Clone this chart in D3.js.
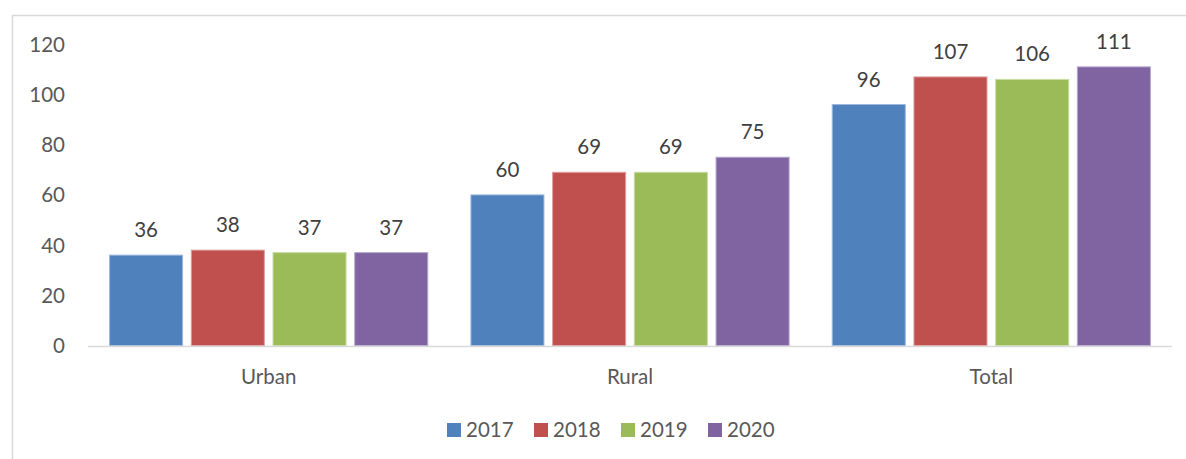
<!DOCTYPE html>
<html>
<head>
<meta charset="utf-8">
<script src="https://cdn.jsdelivr.net/npm/d3@7"></script>
<style>
  html, body { margin: 0; padding: 0; background: #fff; }
  svg { display: block; font-family: Lato, "Open Sans", sans-serif; }
</style>
</head>
<body>
<svg id="chart" width="1186" height="459"></svg>
<script>
// Chart data
const categories = ["Urban", "Rural", "Total"];
const years = ["2017", "2018", "2019", "2020"];
const values2017 = [36, 60, 96];
const values2018 = [38, 69, 107];
const values2019 = [37, 69, 106];
const values2020 = [37, 75, 111];
const yTicks = [0, 20, 40, 60, 80, 100, 120];

const seriesValues = [values2017, values2018, values2019, values2020];
const colors = ["#4F81BD", "#C0504D", "#9BBB59", "#8064A2"];
const strokes = ["#9db8dc", "#dc9e9c", "#c6dba0", "#b5a5cc"];

const svg = d3.select("#chart");
const W = 1186, H = 459;

// Outer chart frame (left and top edges visible)
svg.append("line").attr("x1", 12.5).attr("x2", 12.5).attr("y1", 15).attr("y2", H)
  .attr("stroke", "#d9d9d9").attr("stroke-width", 1.5);
svg.append("line").attr("x1", 12).attr("x2", W).attr("y1", 15.5).attr("y2", 15.5)
  .attr("stroke", "#d9d9d9").attr("stroke-width", 1.5);

const plotLeft = 88, plotRight = 1172;
const y = d3.scaleLinear().domain([0, 120]).range([345.5, 44.3]);

const x0 = d3.scaleBand().domain(categories).range([plotLeft, plotRight])
  .paddingInner(0).paddingOuter(0);
const x1 = d3.scaleBand().domain(years).range([0, x0.bandwidth()])
  .paddingInner(0.094).paddingOuter(0.258);

// Y axis tick labels
svg.append("g").selectAll("text").data(yTicks).join("text")
  .attr("x", 65).attr("y", d => y(d) + 7.5)
  .attr("text-anchor", "end")
  .attr("font-size", 20.5).attr("fill", "#595959")
  .text(d => d);

// Bars
const rows = categories.map((c, i) => ({
  cat: c,
  vals: years.map((yr, j) => ({ year: yr, idx: j, v: seriesValues[j][i] }))
}));

const groups = svg.append("g").selectAll("g").data(rows).join("g")
  .attr("transform", d => `translate(${x0(d.cat)},0)`);

groups.selectAll("rect").data(d => d.vals).join("rect")
  .attr("x", d => x1(d.year) + 0.5)
  .attr("width", x1.bandwidth() - 1)
  .attr("y", d => y(d.v))
  .attr("height", d => y(0) - y(d.v))
  .attr("fill", d => colors[d.idx])
  .attr("stroke", d => strokes[d.idx])
  .attr("stroke-width", 1);

// Value labels
groups.selectAll("text").data(d => d.vals).join("text")
  .attr("x", d => x1(d.year) + x1.bandwidth() / 2)
  .attr("y", d => y(d.v) - 18)
  .attr("text-anchor", "middle")
  .attr("font-size", 20.5).attr("fill", "#404040")
  .text(d => d.v);

// Category axis baseline
svg.append("line").attr("x1", plotLeft).attr("x2", plotRight)
  .attr("y1", 346.5).attr("y2", 346.5)
  .attr("stroke", "#d9d9d9").attr("stroke-width", 1.5);

// Category labels
svg.append("g").selectAll("text").data(categories).join("text")
  .attr("x", d => x0(d) + x0.bandwidth() / 2)
  .attr("y", 384)
  .attr("text-anchor", "middle")
  .attr("font-size", 20.5).attr("fill", "#595959")
  .text(d => d);

// Legend
const legendX = [447, 534, 621, 708];
const legend = svg.append("g").selectAll("g").data(years).join("g")
  .attr("transform", (d, i) => `translate(${legendX[i]},0)`);
legend.append("rect").attr("x", 0).attr("y", 423).attr("width", 14).attr("height", 14)
  .attr("fill", (d, i) => colors[i]);
legend.append("text").attr("x", 19).attr("y", 436.5)
  .attr("font-size", 20.5).attr("fill", "#595959")
  .text(d => d);
</script>
</body>
</html>
